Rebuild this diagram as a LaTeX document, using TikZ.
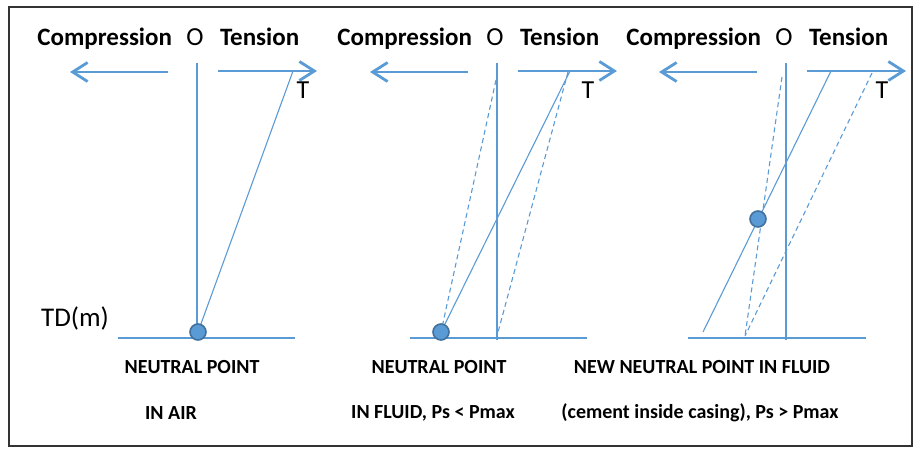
\documentclass[tikz,border=0pt]{standalone}
\usepackage{fontspec}
\setmainfont{Carlito}
\usetikzlibrary{arrows.meta}
\definecolor{lineblue}{HTML}{5B9BD5}
\definecolor{dotrim}{HTML}{41719C}

\begin{document}
\begin{tikzpicture}[x=1pt, y=-1pt,
  axis/.style={lineblue, line width=2.8pt},
  force/.style={axis, -{Straight Barb[length=15pt, width=19pt]}},
  load/.style={lineblue, line width=1.1pt},
  shifted/.style={load, dash pattern=on 5pt off 3.5pt},
  dot/.style={circle, fill=lineblue, draw=dotrim, line width=1.6pt, minimum size=16pt, inner sep=0pt},
  ttl/.style={font=\fontsize{25}{30}\selectfont\bfseries, inner sep=0pt, anchor=base},
  sgn/.style={font=\fontsize{26}{30}\selectfont, inner sep=0pt},
  lbl/.style={font=\fontsize{20}{24}\selectfont\bfseries, inner sep=0pt}]
  \useasboundingbox (0,0) rectangle (914,448);
  \draw[black!80, line width=1.8pt] (9,7) rectangle (912,446);

  % common parts of the three panels
  \foreach \i/\vx/\bl/\br in {1/197/118/295, 2/497/410/587, 3/786/688/866} {
    \node[sgn, anchor=base] (o\i) at (\vx-2,45) {O};
    \node[ttl, anchor=base east] (cmp\i) at ([xshift=-14pt]o\i.base west) {Compression};
    \node[ttl, anchor=base west] (ten\i) at ([xshift=16pt]o\i.base east) {Tension};
    \coordinate (top\i) at (\vx,63);
    \coordinate (foot\i) at (\vx,340);
    \coordinate (bl\i) at (\bl,338);
    \coordinate (br\i) at (\br,338);
    \draw[axis] (top\i) -- (foot\i);
    \draw[axis] (bl\i) -- (br\i);
    \draw[force] (\vx-29,72) -- (\vx-127,72);
    \draw[force] (\vx+21,71) -- (\vx+120,71);
  }

  % in air
  \node[sgn, font=\fontsize{27}{30}\selectfont] (td) at (75,318) {TD(m)};
  \node[sgn] (t1) at (303,90) {T};
  \coordinate (np1) at (198,332);
  \coordinate (a1) at (293,71);
  \draw[load] (a1) -- (np1);
  \node[dot] (n1) at (np1) {};
  \node[lbl] (np1a) at (192,367) {NEUTRAL POINT};
  \node[lbl] (np1b) at (171,413) {IN AIR};

  % in fluid
  \node[sgn] (t2) at (588,90) {T};
  \coordinate (np2) at (441,332);
  \coordinate (a2) at (570,71);
  \coordinate (d2) at (568,72);
  \draw[shifted] (496,80) -- (np2);
  \draw[shifted] (d2) -- (497,336);
  \draw[load] (a2) -- (np2);
  \node[dot] (n2) at (np2) {};
  \node[lbl] (np2a) at (439,367) {NEUTRAL POINT};
  \node[lbl] (np2b) at (433,413) {IN FLUID, Ps < Pmax};

  % cement inside casing
  \node[sgn] (t3) at (882,90) {T};
  \coordinate (np3) at (758,219);
  \coordinate (a3) at (831,71);
  \coordinate (b3) at (703,332);
  \coordinate (c3) at (745,336);
  \draw[shifted] (782,77) -- (c3);
  \draw[shifted] (872,73) -- (c3);
  \draw[load] (a3) -- (b3);
  \node[dot] (n3) at (np3) {};
  \node[lbl] (np3a) at (702,367) {NEW NEUTRAL POINT IN FLUID};
  \node[lbl] (np3b) at (700,413) {(cement inside casing), Ps > Pmax};
\end{tikzpicture}
\end{document}
